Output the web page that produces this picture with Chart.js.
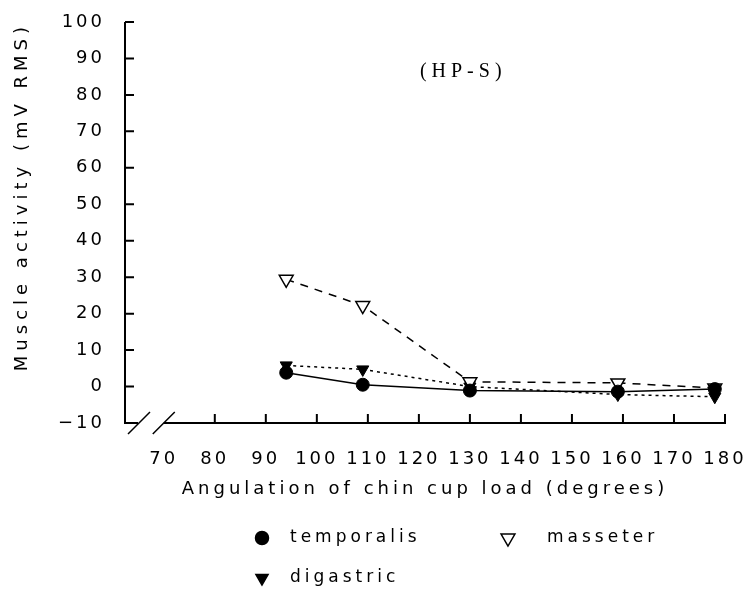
<!DOCTYPE html>
<html><head><meta charset="utf-8">
<script src="https://cdn.jsdelivr.net/npm/chart.js@4/dist/chart.umd.min.js"></script>
<style>html,body{margin:0;padding:0;background:#fff;}#wrap{position:relative;width:750px;height:596px;}</style>
</head><body><div id="wrap"><canvas id="c" width="750" height="596"></canvas></div>
<script>
// ---- data ----
const ANGLES = [94, 109, 130, 159, 178];
const TEMPORALIS = [3.8, 0.5, -1.1, -1.4, -0.7];
const MASSETER = [29.4, 22.2, 1.3, 1.0, -0.4];
const DIGASTRIC = [5.8, 4.7, 0.0, -2.2, -2.8];
const SERIES_NAMES = ['temporalis', 'masseter', 'digastric'];
const X_TICKS = [70, 80, 90, 100, 110, 120, 130, 140, 150, 160, 170, 180];
const Y_TICKS = [-10, 0, 10, 20, 30, 40, 50, 60, 70, 80, 90, 100];
const X_TITLE = 'Angulation of chin cup load (degrees)';
const Y_TITLE = 'Muscle activity (mV RMS)';
const PANEL_LABEL = '(HP-S)';

const TICK_SPACING = '3px';
const FONT = '"DejaVu Sans", sans-serif';

function pts(vals){ return ANGLES.map((a,i)=>({x:a, y:vals[i]})); }

function drawMarker(ctx, style, x, y, r, rot, fill){
  ctx.save();
  ctx.fillStyle = fill; ctx.strokeStyle = '#000'; ctx.lineWidth = 1.5;
  ctx.beginPath();
  if (style === 'circle') { ctx.arc(x, y, r, 0, Math.PI*2); }
  else {
    let rad = rot*Math.PI/180;
    ctx.moveTo(x + Math.sin(rad)*r, y - Math.cos(rad)*r);
    rad += 2*Math.PI/3; ctx.lineTo(x + Math.sin(rad)*r, y - Math.cos(rad)*r);
    rad += 2*Math.PI/3; ctx.lineTo(x + Math.sin(rad)*r, y - Math.cos(rad)*r);
    ctx.closePath();
  }
  ctx.fill(); ctx.stroke();
  ctx.restore();
}

function patchTitle(scale, spacing){
  if (scale._spacedTitle) return;
  const orig = scale.drawTitle;
  scale.drawTitle = function(){
    const c = this.ctx; c.save(); c.letterSpacing = spacing; orig.apply(this, arguments); c.restore();
  };
  scale._spacedTitle = true;
}

const decor = {
  id: 'decor',
  beforeUpdate(chart){ chart.ctx.letterSpacing = TICK_SPACING; },
  beforeDraw(chart){
    chart.ctx.letterSpacing = TICK_SPACING;
    patchTitle(chart.scales.x, '4px');
    patchTitle(chart.scales.y, '5px');
  },
  afterDraw(chart){
    const {ctx, chartArea: a, scales: {x, y}} = chart;
    ctx.save();
    ctx.strokeStyle = '#000'; ctx.lineWidth = 2;
    const yTop = y.getPixelForValue(100), yBot = y.getPixelForValue(-10);
    const xl = a.left;
    ctx.beginPath();
    ctx.moveTo(xl, yTop); ctx.lineTo(xl, yBot + 1);
    Y_TICKS.forEach(v => { if (v === -10) return; const py = y.getPixelForValue(v); ctx.moveTo(xl, py); ctx.lineTo(xl + 9, py); });
    ctx.moveTo(xl - 1, yBot); ctx.lineTo(xl + 13, yBot);
    const x70 = x.getPixelForValue(70), x180 = x.getPixelForValue(180);
    ctx.moveTo(x70, yBot); ctx.lineTo(x180 + 1, yBot);
    X_TICKS.forEach(v => { if (v === 70) return; const px = x.getPixelForValue(v); ctx.moveTo(px, yBot); ctx.lineTo(px, yBot - 9); });
    ctx.stroke();
    ctx.lineWidth = 1.5;
    ctx.beginPath();
    const c1 = xl + 14, c2 = x70;
    ctx.moveTo(c1 - 11, yBot + 11); ctx.lineTo(c1 + 11, yBot - 11);
    ctx.moveTo(c2 - 11, yBot + 11); ctx.lineTo(c2 + 11, yBot - 11);
    ctx.stroke();

    // panel label
    ctx.fillStyle = '#000';
    ctx.letterSpacing = '5px';
    ctx.font = '20px "Liberation Serif", serif';
    ctx.textAlign = 'center'; ctx.textBaseline = 'middle';
    ctx.fillText(PANEL_LABEL, x.getPixelForValue(128.2) + 2.5, y.getPixelForValue(86.4));

    // legend
    ctx.letterSpacing = '4px';
    ctx.font = '17px ' + FONT;
    ctx.textAlign = 'left';
    const items = [
      {name: SERIES_NAMES[0], style:'circle', r:6.5, rot:0, fill:'#000', mx:262, my:538, tx:290},
      {name: SERIES_NAMES[1], style:'triangle', r:8, rot:180, fill:'#fff', mx:508, my:538, tx:547},
      {name: SERIES_NAMES[2], style:'triangle', r:7, rot:180, fill:'#000', mx:262, my:578, tx:290}
    ];
    items.forEach(it => {
      drawMarker(ctx, it.style, it.mx, it.my, it.r, it.rot, it.fill);
      ctx.fillStyle = '#000';
      ctx.fillText(it.name, it.tx, it.my);
    });
    ctx.restore();
  }
};

new Chart(document.getElementById('c'), {
  type: 'line',
  data: {
    datasets: [
      {label: SERIES_NAMES[0], data: pts(TEMPORALIS), borderColor:'#000', borderWidth:1.5,
       pointStyle:'circle', pointRadius:6.5, pointBackgroundColor:'#000', pointBorderColor:'#000', pointBorderWidth:1},
      {label: SERIES_NAMES[1], data: pts(MASSETER), borderColor:'#000', borderWidth:1.5, borderDash:[8,7],
       pointStyle:'triangle', pointRotation:180, pointRadius:8, pointBackgroundColor:'#fff', pointBorderColor:'#000', pointBorderWidth:1.5},
      {label: SERIES_NAMES[2], data: pts(DIGASTRIC), borderColor:'#000', borderWidth:1.5, borderDash:[3,4],
       pointStyle:'triangle', pointRotation:180, pointRadius:7, pointBackgroundColor:'#000', pointBorderColor:'#000', pointBorderWidth:1}
    ]
  },
  options: {
    responsive: false, animation: false, devicePixelRatio: 1,
    layout: {padding: {left: 0, top: 22, right: 25, bottom: 93}},
    plugins: {legend: {display: false}, tooltip: {enabled: false}},
    elements: {line: {tension: 0}},
    scales: {
      x: {
        type: 'linear', min: 62.4, max: 180,
        grid: {display: false}, border: {display: false},
        afterBuildTicks: s => { s.ticks = X_TICKS.map(v => ({value: v})); },
        afterFit: s => { s.height = 80; s.paddingLeft = 0; s.paddingRight = 0; },
        ticks: {padding: 18, autoSkip: false, maxRotation: 0, color: '#000', font: {family: FONT, size: 18}, callback: v => String(v)},
        title: {display: true, text: X_TITLE, color: '#000', font: {family: FONT, size: 18}, padding: {top: 0, bottom: 3}}
      },
      y: {
        min: -10, max: 100,
        grid: {display: false}, border: {display: false},
        afterBuildTicks: s => { s.ticks = Y_TICKS.map(v => ({value: v})); },
        afterFit: s => { s.width = 125; s.paddingTop = 0; s.paddingBottom = 0; },
        ticks: {padding: 12, color: '#000', font: {family: FONT, size: 18}, callback: v => String(v).replace('-', '\u2212')},
        title: {display: true, text: Y_TITLE, align: 'end', color: '#000', font: {family: FONT, size: 18}, padding: {top: 12, bottom: 0}}
      }
    }
  },
  plugins: [decor]
});
</script></body></html>
